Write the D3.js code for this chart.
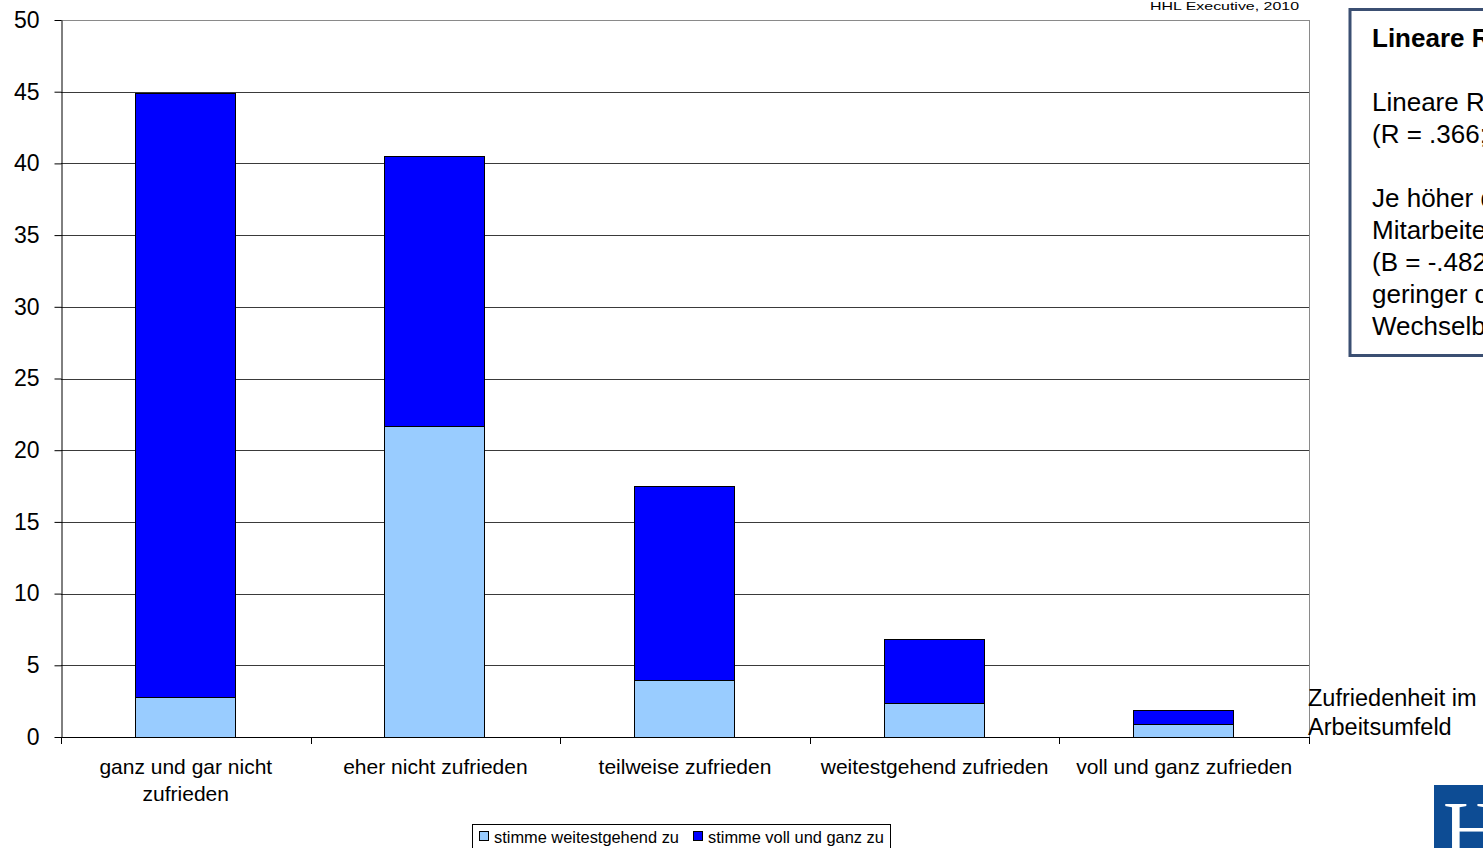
<!DOCTYPE html>
<html>
<head>
<meta charset="utf-8">
<script src="https://cdn.jsdelivr.net/npm/d3@7"></script>
<style>
  html, body { margin: 0; padding: 0; background: #fff; overflow: hidden; }
  svg { display: block; font-family: "Liberation Sans", Arial, sans-serif; }
</style>
</head>
<body>
<svg id="chart" width="1483" height="848"></svg>
<script>
// Satisfaction categories (x axis)
const categories = [
  ["ganz und gar nicht", "zufrieden"],
  ["eher nicht zufrieden"],
  ["teilweise zufrieden"],
  ["weitestgehend zufrieden"],
  ["voll und ganz zufrieden"]
];
// Stacked series (percent)
const seriesNames = ["stimme weitestgehend zu", "stimme voll und ganz zu"];
const weitestgehend = [2.8, 21.7, 4.0, 2.4, 0.9];
const vollUndGanz   = [42.1, 18.8, 13.5, 4.4, 1.0];
const yTicks = [0, 5, 10, 15, 20, 25, 30, 35, 40, 45, 50];
const boxLines = [
  "Lineare Regression signifikant",
  "(R = .366; p = .000)",
  "",
  "Je höher die Zufriedenheit der",
  "Mitarbeiter im Arbeitsumfeld",
  "(B = -.482; p = .000), desto",
  "geringer die",
  "Wechselbereitschaft"
];

const colors = ["#99ccff", "#0000ff"];
const svg = d3.select("#chart");
const plotL = 61, plotR = 1309, plotT = 20, plotB = 737;

const x = d3.scaleBand().domain(d3.range(categories.length)).range([plotL, plotR]).paddingInner(0).paddingOuter(0);
const y = d3.scaleLinear().domain([0, 50]).range([plotB, plotT]);

// Horizontal gridlines
svg.append("g").selectAll("line").data(yTicks.filter(d => d > 0)).join("line")
  .attr("x1", plotL).attr("x2", plotR)
  .attr("y1", d => Math.round(y(d)) + 0.5).attr("y2", d => Math.round(y(d)) + 0.5)
  .attr("stroke", d => d === 50 ? "#8a8a8a" : "#3a3a3a").attr("stroke-width", 1);

// Right frame edge
svg.append("line").attr("x1", plotR + 0.5).attr("x2", plotR + 0.5)
  .attr("y1", plotT).attr("y2", plotB).attr("stroke", "#8a8a8a");

// Stacked bars
const data = categories.map((c, i) => ({ i, a: weitestgehend[i], b: vollUndGanz[i] }));
const stack = d3.stack().keys(["a", "b"])(data);
const barW = x.bandwidth() * 0.4;
svg.append("g").selectAll("g").data(stack).join("g")
  .attr("fill", (d, k) => colors[k])
  .selectAll("rect").data(d => d).join("rect")
  .attr("x", d => Math.round(x(d.data.i) + (x.bandwidth() - barW) / 2) - 0.5)
  .attr("width", Math.round(barW))
  .attr("y", d => Math.round(y(d[1])) + 0.5)
  .attr("height", d => Math.round(y(d[0])) - Math.round(y(d[1])))
  .attr("stroke", "#000").attr("stroke-width", 1);

// Y axis
const yAxis = svg.append("g").attr("transform", `translate(${plotL + 0.5},0)`)
  .call(d3.axisLeft(y).tickValues(yTicks).tickSize(7).tickSizeOuter(0).tickFormat(d3.format("d")));
yAxis.select(".domain").attr("stroke", "#000");
yAxis.selectAll(".tick line").attr("stroke", "#000");
yAxis.selectAll(".tick text").attr("x", -22).attr("font-size", 23).attr("fill", "#000")
  .attr("font-family", "Liberation Sans, Arial, sans-serif");

// X axis baseline with boundary ticks
svg.append("line").attr("x1", plotL).attr("x2", plotR)
  .attr("y1", plotB + 0.5).attr("y2", plotB + 0.5).attr("stroke", "#000");
const bounds = d3.range(categories.length + 1).map(i => i < categories.length ? x(i) : plotR);
svg.append("g").selectAll("line").data(bounds).join("line")
  .attr("x1", d => Math.round(d) + 0.5).attr("x2", d => Math.round(d) + 0.5)
  .attr("y1", plotB).attr("y2", plotB + 7).attr("stroke", "#000");

// Category labels
const lab = svg.append("g").selectAll("text").data(categories).join("text")
  .attr("x", (d, i) => x(i) + x.bandwidth() / 2)
  .attr("y", 774).attr("text-anchor", "middle").attr("font-size", 21).attr("fill", "#000");
lab.selectAll("tspan").data(d => d).join("tspan")
  .attr("x", function () { return this.parentNode.getAttribute("x"); })
  .attr("dy", (d, j) => j === 0 ? 0 : 27).text(d => d);

// Axis title
svg.append("text").attr("x", 1308).attr("y", 706).attr("font-size", 23.5).text("Zufriedenheit im");
svg.append("text").attr("x", 1308).attr("y", 735).attr("font-size", 23.5).text("Arbeitsumfeld");

// Source note (wide, short lettering)
svg.append("text").attr("x", 1150).attr("y", 10)
  .attr("font-size", 11.5).attr("textLength", 149).attr("lengthAdjust", "spacingAndGlyphs")
  .attr("fill", "#000").text("HHL Executive, 2010");

// Legend
const lg = svg.append("g");
lg.append("rect").attr("x", 472.5).attr("y", 824.5).attr("width", 418).attr("height", 28)
  .attr("fill", "#fff").attr("stroke", "#000");
const legX = [479, 693];
seriesNames.forEach((n, k) => {
  lg.append("rect").attr("x", legX[k] + 0.5).attr("y", 831.5).attr("width", 9).attr("height", 9)
    .attr("fill", colors[k]).attr("stroke", "#000");
  lg.append("text").attr("x", legX[k] + 15).attr("y", 842.5).attr("font-size", 16.4).text(n);
});

// Regression info box
svg.append("rect").attr("x", 1350).attr("y", 9.5).attr("width", 200).attr("height", 346)
  .attr("fill", "#fff").attr("stroke", "#3b4f72").attr("stroke-width", 3);
svg.append("text").attr("x", 1372).attr("y", 47).attr("font-size", 26).attr("font-weight", "bold")
  .text("Lineare Regression");
boxLines.forEach((t, j) => {
  svg.append("text").attr("x", 1372).attr("y", 111 + j * 32).attr("font-size", 26).text(t);
});

// Logo corner
svg.append("rect").attr("x", 1434).attr("y", 785).attr("width", 60).attr("height", 70).attr("fill", "#0d4c94");
svg.append("text").attr("x", 1443).attr("y", 857).attr("font-size", 80)
  .attr("font-family", "Liberation Serif, serif").attr("fill", "#fff").text("H");
</script>
</body>
</html>
